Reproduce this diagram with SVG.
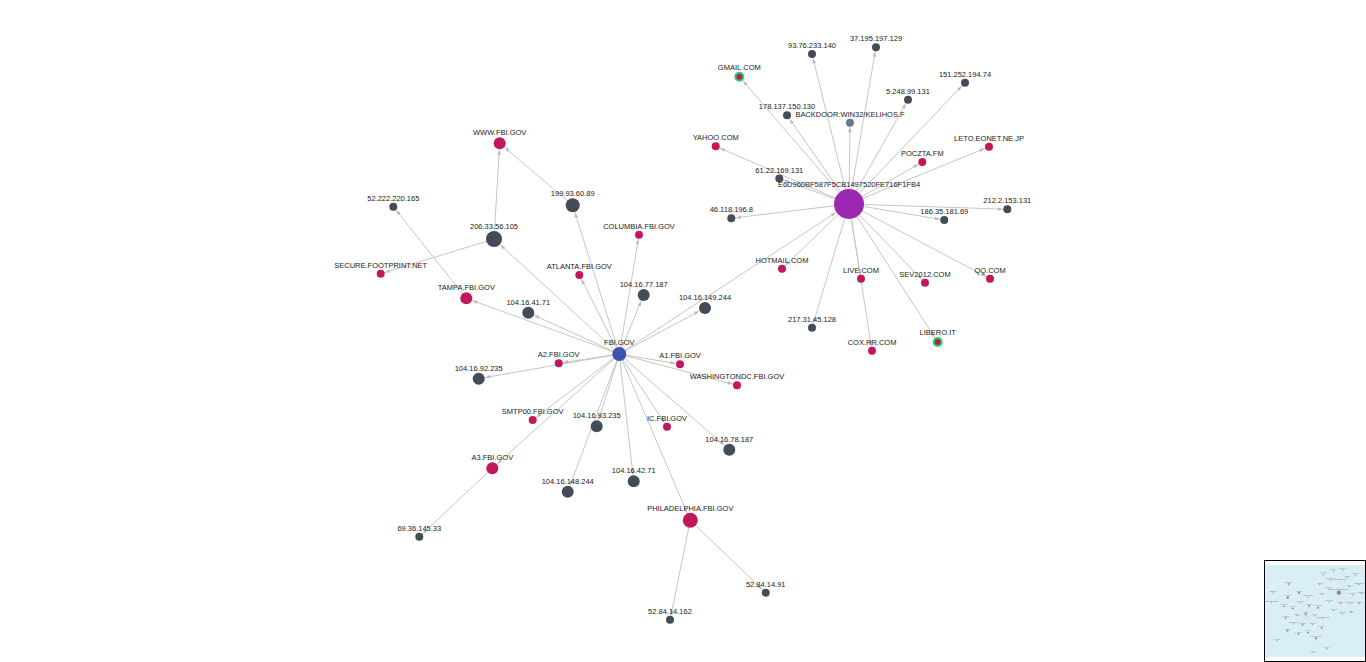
<svg xmlns="http://www.w3.org/2000/svg" xmlns:xlink="http://www.w3.org/1999/xlink" width="1366" height="662" viewBox="0 0 1366 662">
<style>
.e{stroke:#c6c6c6;stroke-width:1;fill:none}
.t{font-family:"Liberation Sans",Arial,sans-serif;font-size:7.5px;fill:#222;text-anchor:middle}
.d{fill:#434c57}
.c{fill:#c2185b}
.g{fill:#c2185b;stroke:#1ed760;stroke-width:2}
.p{fill:#9c27b0}
.b{fill:#3f51b5}
.s{fill:#5f7d8e}
</style>
<defs>
<marker id="a4" markerUnits="userSpaceOnUse" markerWidth="12" markerHeight="12" refX="5" refY="0" orient="auto" overflow="visible"><path d="M-4.5,-1.8 L0,0 L-4.5,1.8 z" fill="#b8b8b8"/></marker>
<marker id="a5" markerUnits="userSpaceOnUse" markerWidth="12" markerHeight="12" refX="6" refY="0" orient="auto" overflow="visible"><path d="M-4.5,-1.8 L0,0 L-4.5,1.8 z" fill="#b8b8b8"/></marker>
<marker id="a6" markerUnits="userSpaceOnUse" markerWidth="12" markerHeight="12" refX="7" refY="0" orient="auto" overflow="visible"><path d="M-4.5,-1.8 L0,0 L-4.5,1.8 z" fill="#b8b8b8"/></marker>
<marker id="a7" markerUnits="userSpaceOnUse" markerWidth="12" markerHeight="12" refX="8" refY="0" orient="auto" overflow="visible"><path d="M-4.5,-1.8 L0,0 L-4.5,1.8 z" fill="#b8b8b8"/></marker>
<marker id="a8" markerUnits="userSpaceOnUse" markerWidth="12" markerHeight="12" refX="9" refY="0" orient="auto" overflow="visible"><path d="M-4.5,-1.8 L0,0 L-4.5,1.8 z" fill="#b8b8b8"/></marker>
<marker id="a15" markerUnits="userSpaceOnUse" markerWidth="12" markerHeight="12" refX="16" refY="0" orient="auto" overflow="visible"><path d="M-4.5,-1.8 L0,0 L-4.5,1.8 z" fill="#b8b8b8"/></marker>
<clipPath id="mm"><rect x="1265" y="561" width="100" height="100"/></clipPath>
</defs>
<rect width="1366" height="662" fill="#ffffff"/>
<g id="graph">
<g id="connectors">
<line class="e" x1="849" y1="204" x2="812" y2="54" marker-end="url(#a4)"/>
<line class="e" x1="849" y1="204" x2="876" y2="47.3" marker-end="url(#a4)"/>
<line class="e" x1="849" y1="204" x2="739.3" y2="76.7" marker-end="url(#a5)"/>
<line class="e" x1="849" y1="204" x2="965" y2="82.7" marker-end="url(#a4)"/>
<line class="e" x1="849" y1="204" x2="908" y2="99.7" marker-end="url(#a4)"/>
<line class="e" x1="849" y1="204" x2="787" y2="115.3" marker-end="url(#a4)"/>
<line class="e" x1="849" y1="204" x2="850" y2="122.7" marker-end="url(#a4)"/>
<line class="e" x1="849" y1="204" x2="715.7" y2="146.3" marker-end="url(#a4)"/>
<line class="e" x1="849" y1="204" x2="989" y2="146.7" marker-end="url(#a4)"/>
<line class="e" x1="849" y1="204" x2="922.3" y2="162" marker-end="url(#a4)"/>
<line class="e" x1="849" y1="204" x2="779.3" y2="178.5" marker-end="url(#a4)"/>
<line class="e" x1="849" y1="204" x2="731.3" y2="218.3" marker-end="url(#a4)"/>
<line class="e" x1="849" y1="204" x2="944.3" y2="220" marker-end="url(#a4)"/>
<line class="e" x1="849" y1="204" x2="1007.3" y2="209.3" marker-end="url(#a4)"/>
<line class="e" x1="849" y1="204" x2="782" y2="268.7" marker-end="url(#a4)"/>
<line class="e" x1="849" y1="204" x2="861" y2="278.7" marker-end="url(#a4)"/>
<line class="e" x1="849" y1="204" x2="925" y2="282.7" marker-end="url(#a4)"/>
<line class="e" x1="849" y1="204" x2="990" y2="278.7" marker-end="url(#a4)"/>
<line class="e" x1="849" y1="204" x2="812" y2="327.7" marker-end="url(#a4)"/>
<line class="e" x1="849" y1="204" x2="872" y2="350.7" marker-end="url(#a4)"/>
<line class="e" x1="849" y1="204" x2="937.7" y2="342" marker-end="url(#a5)"/>
<line class="e" x1="619.3" y1="354" x2="849" y2="204" marker-end="url(#a15)"/>
<line class="e" x1="619.3" y1="354" x2="705" y2="308" marker-end="url(#a6)"/>
<line class="e" x1="619.3" y1="354" x2="643.7" y2="295" marker-end="url(#a6)"/>
<line class="e" x1="619.3" y1="354" x2="639" y2="234.7" marker-end="url(#a4)"/>
<line class="e" x1="619.3" y1="354" x2="579.3" y2="275" marker-end="url(#a4)"/>
<line class="e" x1="619.3" y1="354" x2="572.7" y2="205.3" marker-end="url(#a7)"/>
<line class="e" x1="619.3" y1="354" x2="494" y2="239" marker-end="url(#a8)"/>
<line class="e" x1="619.3" y1="354" x2="528.3" y2="312.7" marker-end="url(#a6)"/>
<line class="e" x1="619.3" y1="354" x2="466.3" y2="298.3" marker-end="url(#a6)"/>
<line class="e" x1="619.3" y1="354" x2="558.7" y2="363.3" marker-end="url(#a4)"/>
<line class="e" x1="619.3" y1="354" x2="478.7" y2="378.7" marker-end="url(#a6)"/>
<line class="e" x1="619.3" y1="354" x2="680" y2="364.3" marker-end="url(#a4)"/>
<line class="e" x1="619.3" y1="354" x2="737" y2="385.3" marker-end="url(#a4)"/>
<line class="e" x1="619.3" y1="354" x2="532.7" y2="420" marker-end="url(#a4)"/>
<line class="e" x1="619.3" y1="354" x2="492.3" y2="468.3" marker-end="url(#a6)"/>
<line class="e" x1="619.3" y1="354" x2="596.7" y2="426.3" marker-end="url(#a6)"/>
<line class="e" x1="619.3" y1="354" x2="567.7" y2="491.7" marker-end="url(#a6)"/>
<line class="e" x1="619.3" y1="354" x2="633.7" y2="481.3" marker-end="url(#a6)"/>
<line class="e" x1="619.3" y1="354" x2="667" y2="426.7" marker-end="url(#a4)"/>
<line class="e" x1="619.3" y1="354" x2="729.3" y2="449.7" marker-end="url(#a6)"/>
<line class="e" x1="619.3" y1="354" x2="690.3" y2="520.3" marker-end="url(#a7)"/>
<line class="e" x1="466.3" y1="298.3" x2="393.3" y2="206.7" marker-end="url(#a4)"/>
<line class="e" x1="494" y1="239" x2="499.7" y2="143.3" marker-end="url(#a6)"/>
<line class="e" x1="572.7" y1="205.3" x2="499.7" y2="143.3" marker-end="url(#a6)"/>
<line class="e" x1="494" y1="239" x2="380.7" y2="273.7" marker-end="url(#a4)"/>
<line class="e" x1="492.3" y1="468.3" x2="419.3" y2="536.7" marker-end="url(#a4)"/>
<line class="e" x1="690.3" y1="520.3" x2="765.7" y2="592.7" marker-end="url(#a4)"/>
<line class="e" x1="690.3" y1="520.3" x2="670" y2="619.7" marker-end="url(#a4)"/>
</g>
<g id="nodes">
<g id="n-hub"><circle class="p" cx="849" cy="204" r="15"/><text class="t" x="849" y="187">E6D960BF587F5CB1497520FE716F1FB4</text></g>
<g id="n-93-76-233-140"><circle class="d" cx="812" cy="54" r="4"/><text class="t" x="812" y="48">93.76.233.140</text></g>
<g id="n-37-195-197-129"><circle class="d" cx="876" cy="47.3" r="4"/><text class="t" x="876" y="41.3">37.195.197.129</text></g>
<g id="n-gmail"><circle class="g" cx="739.3" cy="76.7" r="4"/><text class="t" x="739.3" y="69.7">GMAIL.COM</text></g>
<g id="n-151-252-194-74"><circle class="d" cx="965" cy="82.7" r="4"/><text class="t" x="965" y="76.7">151.252.194.74</text></g>
<g id="n-5-248-99-131"><circle class="d" cx="908" cy="99.7" r="4"/><text class="t" x="908" y="93.7">5.248.99.131</text></g>
<g id="n-178-137-150-130"><circle class="d" cx="787" cy="115.3" r="4"/><text class="t" x="787" y="109.3">178.137.150.130</text></g>
<g id="n-backdoor"><circle class="s" cx="850" cy="122.7" r="4"/><text class="t" x="850" y="116.7">BACKDOOR:WIN32/KELIHOS.F</text></g>
<g id="n-yahoo"><circle class="c" cx="715.7" cy="146.3" r="4"/><text class="t" x="715.7" y="140.3">YAHOO.COM</text></g>
<g id="n-leto"><circle class="c" cx="989" cy="146.7" r="4"/><text class="t" x="989" y="140.7">LETO.EONET.NE.JP</text></g>
<g id="n-poczta"><circle class="c" cx="922.3" cy="162" r="4"/><text class="t" x="922.3" y="156">POCZTA.FM</text></g>
<g id="n-61-22-169-131"><circle class="d" cx="779.3" cy="178.5" r="4"/><text class="t" x="779.3" y="172.5">61.22.169.131</text></g>
<g id="n-46-118-196-8"><circle class="d" cx="731.3" cy="218.3" r="4"/><text class="t" x="731.3" y="212.3">46.118.196.8</text></g>
<g id="n-186-35-181-69"><circle class="d" cx="944.3" cy="220" r="4"/><text class="t" x="944.3" y="214">186.35.181.69</text></g>
<g id="n-212-2-153-131"><circle class="d" cx="1007.3" cy="209.3" r="4"/><text class="t" x="1007.3" y="203.3">212.2.153.131</text></g>
<g id="n-hotmail"><circle class="c" cx="782" cy="268.7" r="4"/><text class="t" x="782" y="262.7">HOTMAIL.COM</text></g>
<g id="n-live"><circle class="c" cx="861" cy="278.7" r="4"/><text class="t" x="861" y="272.7">LIVE.COM</text></g>
<g id="n-sev2012"><circle class="c" cx="925" cy="282.7" r="4"/><text class="t" x="925" y="276.7">SEV2012.COM</text></g>
<g id="n-qq"><circle class="c" cx="990" cy="278.7" r="4"/><text class="t" x="990" y="272.7">QQ.COM</text></g>
<g id="n-217-31-45-128"><circle class="d" cx="812" cy="327.7" r="4"/><text class="t" x="812" y="321.7">217.31.45.128</text></g>
<g id="n-cox"><circle class="c" cx="872" cy="350.7" r="4"/><text class="t" x="872" y="344.7">COX.RR.COM</text></g>
<g id="n-libero"><circle class="g" cx="937.7" cy="342" r="4"/><text class="t" x="937.7" y="335">LIBERO.IT</text></g>
<g id="n-104-16-149-244"><circle class="d" cx="705" cy="308" r="6"/><text class="t" x="705" y="300">104.16.149.244</text></g>
<g id="n-fbi"><circle class="b" cx="619.3" cy="354" r="7"/><text class="t" x="619.3" y="345">FBI.GOV</text></g>
<g id="n-www"><circle class="c" cx="499.7" cy="143.3" r="6"/><text class="t" x="499.7" y="135.3">WWW.FBI.GOV</text></g>
<g id="n-52-222-220-165"><circle class="d" cx="393.3" cy="206.7" r="4"/><text class="t" x="393.3" y="200.7">52.222.220.165</text></g>
<g id="n-199-93-60-89"><circle class="d" cx="572.7" cy="205.3" r="7"/><text class="t" x="572.7" y="196.3">199.93.60.89</text></g>
<g id="n-206-33-56-105"><circle class="d" cx="494" cy="239" r="8"/><text class="t" x="494" y="229">206.33.56.105</text></g>
<g id="n-columbia"><circle class="c" cx="639" cy="234.7" r="4"/><text class="t" x="639" y="228.7">COLUMBIA.FBI.GOV</text></g>
<g id="n-secure"><circle class="c" cx="380.7" cy="273.7" r="4"/><text class="t" x="380.7" y="267.7">SECURE.FOOTPRINT.NET</text></g>
<g id="n-atlanta"><circle class="c" cx="579.3" cy="275" r="4"/><text class="t" x="579.3" y="269">ATLANTA.FBI.GOV</text></g>
<g id="n-tampa"><circle class="c" cx="466.3" cy="298.3" r="6"/><text class="t" x="466.3" y="290.3">TAMPA.FBI.GOV</text></g>
<g id="n-104-16-77-187"><circle class="d" cx="643.7" cy="295" r="6"/><text class="t" x="643.7" y="287">104.16.77.187</text></g>
<g id="n-104-16-41-71"><circle class="d" cx="528.3" cy="312.7" r="6"/><text class="t" x="528.3" y="304.7">104.16.41.71</text></g>
<g id="n-a2"><circle class="c" cx="558.7" cy="363.3" r="4"/><text class="t" x="558.7" y="357.3">A2.FBI.GOV</text></g>
<g id="n-a1"><circle class="c" cx="680" cy="364.3" r="4"/><text class="t" x="680" y="358.3">A1.FBI.GOV</text></g>
<g id="n-104-16-92-235"><circle class="d" cx="478.7" cy="378.7" r="6"/><text class="t" x="478.7" y="370.7">104.16.92.235</text></g>
<g id="n-washingtondc"><circle class="c" cx="737" cy="385.3" r="4"/><text class="t" x="737" y="379.3">WASHINGTONDC.FBI.GOV</text></g>
<g id="n-smtp00"><circle class="c" cx="532.7" cy="420" r="4"/><text class="t" x="532.7" y="414">SMTP00.FBI.GOV</text></g>
<g id="n-104-16-93-235"><circle class="d" cx="596.7" cy="426.3" r="6"/><text class="t" x="596.7" y="418.3">104.16.93.235</text></g>
<g id="n-ic"><circle class="c" cx="667" cy="426.7" r="4"/><text class="t" x="667" y="420.7">IC.FBI.GOV</text></g>
<g id="n-104-16-78-187"><circle class="d" cx="729.3" cy="449.7" r="6"/><text class="t" x="729.3" y="441.7">104.16.78.187</text></g>
<g id="n-a3"><circle class="c" cx="492.3" cy="468.3" r="6"/><text class="t" x="492.3" y="460.3">A3.FBI.GOV</text></g>
<g id="n-104-16-42-71"><circle class="d" cx="633.7" cy="481.3" r="6"/><text class="t" x="633.7" y="473.3">104.16.42.71</text></g>
<g id="n-104-16-148-244"><circle class="d" cx="567.7" cy="491.7" r="6"/><text class="t" x="567.7" y="483.7">104.16.148.244</text></g>
<g id="n-philadelphia"><circle class="c" cx="690.3" cy="520.3" r="7.5"/><text class="t" x="690.3" y="510.8">PHILADELPHIA.FBI.GOV</text></g>
<g id="n-69-36-145-33"><circle class="d" cx="419.3" cy="536.7" r="4"/><text class="t" x="419.3" y="530.7">69.36.145.33</text></g>
<g id="n-52-84-14-91"><circle class="d" cx="765.7" cy="592.7" r="4"/><text class="t" x="765.7" y="586.7">52.84.14.91</text></g>
<g id="n-52-84-14-162"><circle class="d" cx="670" cy="619.7" r="4"/><text class="t" x="670" y="613.7">52.84.14.162</text></g>
</g>
</g>
<g id="minimap">
<rect x="1264.5" y="560.5" width="101" height="101" fill="#ffffff" stroke="#000" stroke-width="1"/>
<g clip-path="url(#mm)"><use href="#graph" xlink:href="#graph" transform="translate(1216.6,563.3) scale(0.144)"/></g>
<rect x="1265.5" y="565" width="99.5" height="92" fill="#a8d8e8" fill-opacity="0.42"/>
<rect x="1264.5" y="560.5" width="101" height="101" fill="none" stroke="#000" stroke-width="1"/>
</g>
</svg>
